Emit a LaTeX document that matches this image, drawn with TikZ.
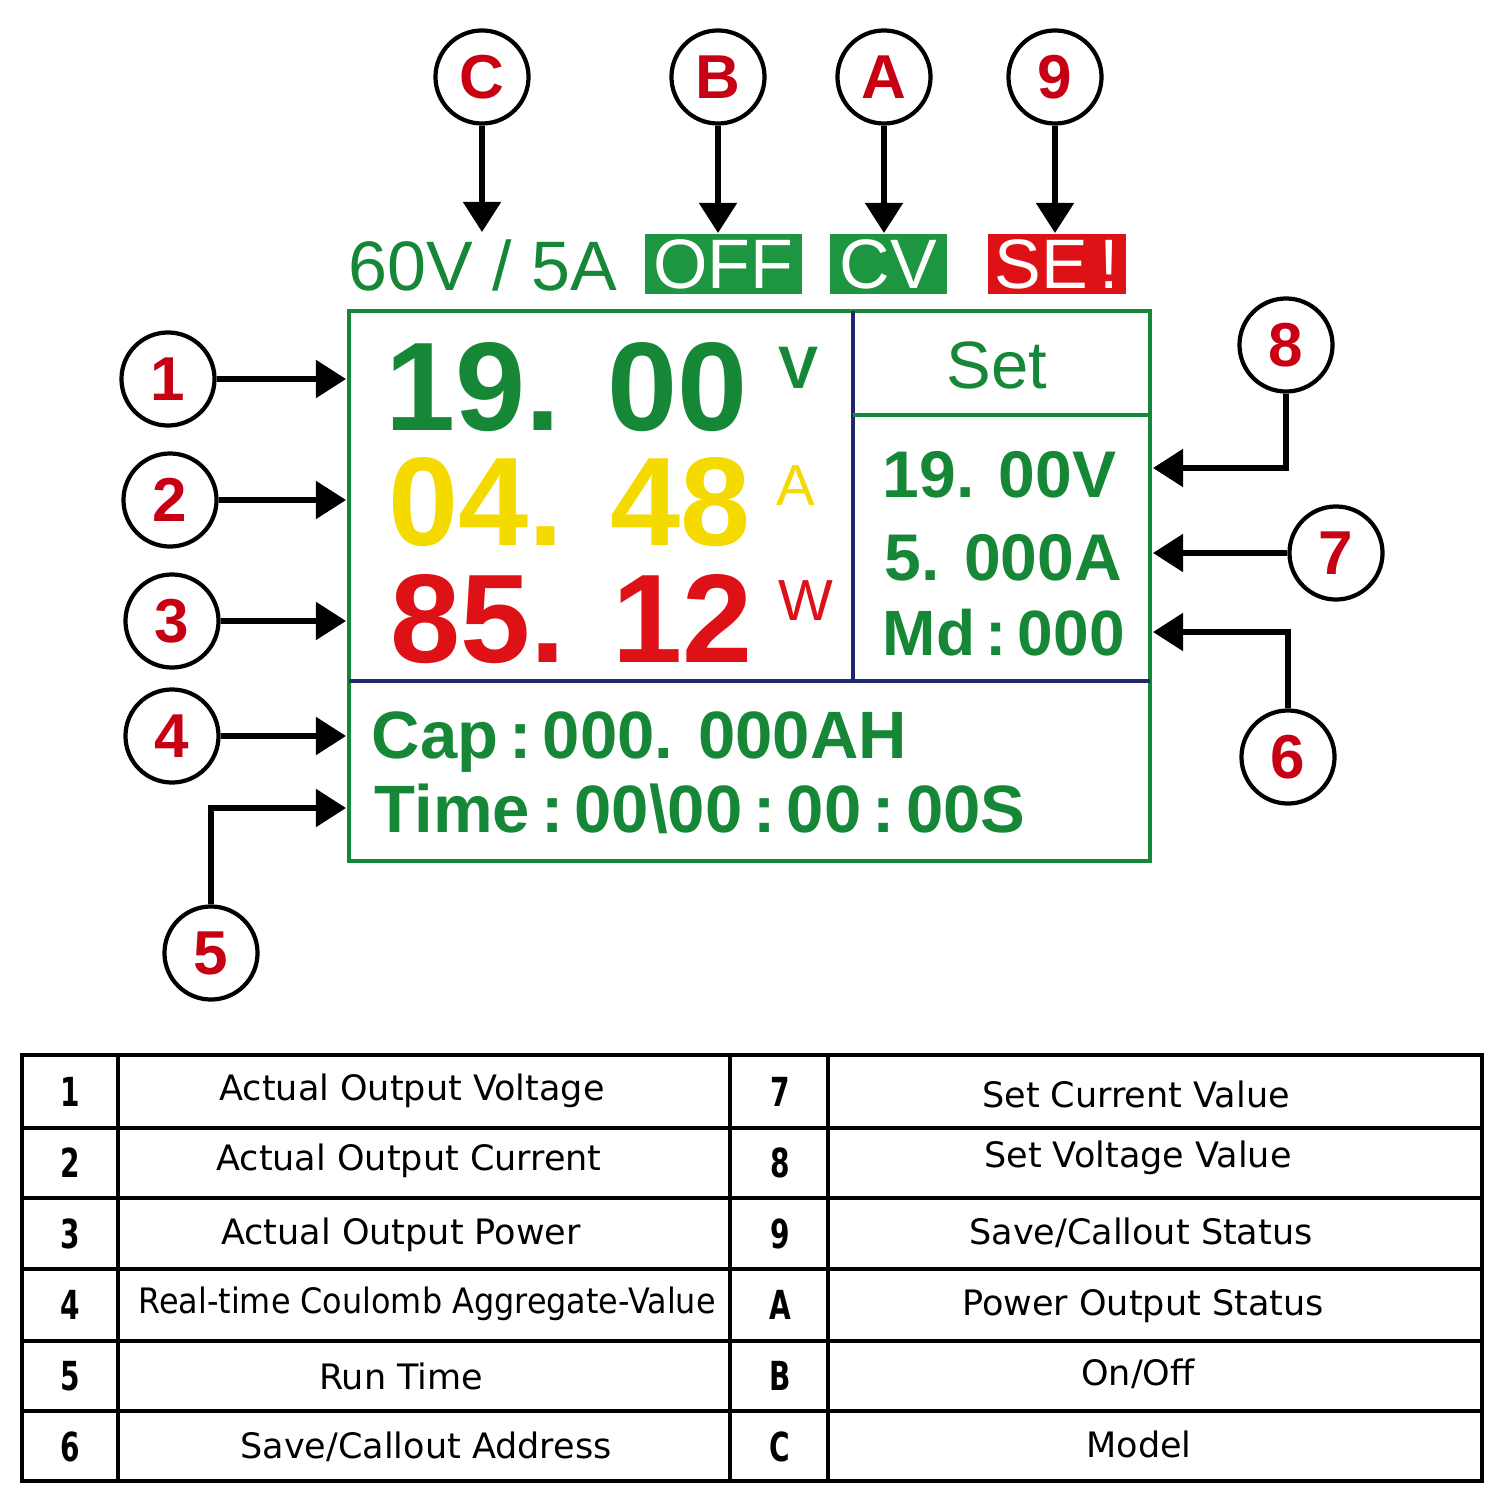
\documentclass[tikz,border=0pt]{standalone}
\usepackage{fontspec}
\setmainfont{Liberation Sans}
\newfontfamily\tabfont{DejaVu Sans}
\newfontfamily\tabfontn[FakeStretch=0.91]{DejaVu Sans}
\newfontfamily\tabnum[FakeStretch=0.7]{DejaVu Sans}
\usetikzlibrary{arrows.meta}
\definecolor{grn}{RGB}{22,135,55}
\definecolor{boxgrn}{RGB}{30,150,65}
\definecolor{yel}{RGB}{245,218,0}
\definecolor{dred}{RGB}{222,18,22}
\definecolor{labred}{RGB}{200,0,20}
\definecolor{navy}{RGB}{30,40,110}
\newcommand\px[1]{\fontsize{\dimexpr #1\dimexpr 0.2845pt\relax\relax}{\dimexpr #1\dimexpr 0.3pt\relax\relax}\selectfont}
\tikzset{
  callout/.style={circle, draw=black, line width=1.2pt, minimum size=0.93cm, inner sep=0pt,
    text=labred, font=\px{62}\bfseries},
  pointer/.style={line width=1.45pt, -{Triangle[length=0.3cm, width=0.37cm]}},
  disp/.style={inner sep=0pt, anchor=base west},
  cell/.style={inner sep=0pt, anchor=center, font=\tabfont\px{35}},
  cellnum/.style={inner sep=0pt, anchor=center, font=\tabnum\bfseries\px{40}},
}
\begin{document}
\begin{tikzpicture}[x=0.01cm, y=-0.01cm]
\useasboundingbox (0,0) rectangle (1500,1500);
\fill[white] (0,0) rectangle (1500,1500);

% ---------- top status row ----------
\node[disp, text=grn, font=\px{70}] (model) at (348,290) {60V / 5A};
\node[fill=boxgrn, text=white, font=\px{70}, minimum width=1.57cm, minimum height=0.6cm, inner sep=0pt] (off) at (723.5,264) {OFF};
\node[fill=boxgrn, text=white, font=\px{70}, minimum width=1.17cm, minimum height=0.6cm, inner sep=0pt] (cv) at (888.5,264) {CV};
\node[fill=dred, text=white, font=\px{70}, minimum width=1.38cm, minimum height=0.6cm, inner sep=0pt] (se) at (1057,264) {SE\,!};

% ---------- display box ----------
\draw[grn, line width=1.15pt] (349,311) rectangle (1150,861);
\draw[navy, line width=1pt] (853,311) -- (853,681);
\draw[navy, line width=1.1pt] (349,681) -- (1150,681);
\draw[grn, line width=1.1pt] (853,415) -- (1150,415);

\node[disp, text=grn, font=\px{126}\bfseries] (volt) at (385,430) {19. 00};
\node[disp, text=grn, font=\px{60}\bfseries] (voltu) at (778,388) {V};
\node[disp, text=yel, font=\px{126}\bfseries] (curr) at (388,545) {04. 48};
\node[disp, text=yel, font=\px{58}] (curru) at (776,505) {A};
\node[disp, text=dred, font=\px{126}\bfseries] (pow) at (390,662) {85. 12};
\node[disp, text=dred, font=\px{58}] (powu) at (778,620) {W};

\node[inner sep=0pt, anchor=base, text=grn, font=\px{67}] (set) at (997,388) {Set};
\node[disp, text=grn, font=\px{66}\bfseries] (setv) at (882,497) {19. 00V};
\node[disp, text=grn, font=\px{66}\bfseries] (seta) at (884,580) {5. 000A};
\node[disp, text=grn, font=\px{64}\bfseries] (md) at (882,655) {Md\,:\,000};

\node[disp, text=grn, font=\px{67}\bfseries] (cap) at (371,758) {Cap\,:\,000. 000AH};
\node[disp, text=grn, font=\px{67}\bfseries] (time) at (374,832) {Time\,:\,00\textbackslash 00\,:\,00\,:\,00S};

% ---------- callouts ----------
\node[callout] (cC) at (482,77) {C};
\node[callout] (cB) at (718,77) {B};
\node[callout] (cA) at (884,77) {A};
\node[callout] (c9) at (1055,77) {9};
\node[callout] (c1) at (168,379) {1};
\node[callout] (c2) at (170,500) {2};
\node[callout] (c3) at (172,621) {3};
\node[callout] (c4) at (172,736) {4};
\node[callout] (c5) at (211,953) {5};
\node[callout] (c8) at (1286,345) {8};
\node[callout] (c7) at (1336,553) {7};
\node[callout] (c6) at (1288,757) {6};

\coordinate (tC) at (482,232);
\coordinate (tB) at (718,233);
\coordinate (tA) at (884,233);
\coordinate (t9) at (1055,233);
\coordinate (t1) at (346,379);
\coordinate (t2) at (346,500);
\coordinate (t3) at (346,621);
\coordinate (t4) at (346,736);
\coordinate (t5) at (346,808);
\coordinate (t8) at (1153,468);
\coordinate (t7) at (1153,553);
\coordinate (t6) at (1153,632);

\draw[pointer] (cC) -- (tC);
\draw[pointer] (cB) -- (tB);
\draw[pointer] (cA) -- (tA);
\draw[pointer] (c9) -- (t9);
\draw[pointer] (c1) -- (t1);
\draw[pointer] (c2) -- (t2);
\draw[pointer] (c3) -- (t3);
\draw[pointer] (c4) -- (t4);
\draw[pointer] (c5) |- (t5);
\draw[pointer] (c8) |- (t8);
\draw[pointer] (c7) -- (t7);
\draw[pointer] (c6) |- (t6);

% ---------- table ----------
\draw[black, line width=0.9pt] (22,1055) rectangle (1482,1481);
\foreach \yy in {1128,1198,1269,1341,1411}
  \draw[black, line width=0.9pt] (22,\yy) -- (1482,\yy);
\foreach \xx in {118,730,828}
  \draw[black, line width=0.9pt] (\xx,1055) -- (\xx,1481);

\node[cellnum] (n1) at (70,1092) {1};
\node[cellnum] (n2) at (70,1163) {2};
\node[cellnum] (n3) at (70,1234) {3};
\node[cellnum] (n4) at (70,1305) {4};
\node[cellnum] (n5) at (70,1376) {5};
\node[cellnum] (n6) at (70,1447) {6};
\node[cellnum] (n7) at (780,1092) {7};
\node[cellnum] (n8) at (780,1163) {8};
\node[cellnum] (n9) at (780,1234) {9};
\node[cellnum] (nA) at (780,1305) {A};
\node[cellnum] (nB) at (780,1376) {B};
\node[cellnum] (nC) at (780,1447) {C};

\node[cell] (d1) at (412,1091) {Actual Output Voltage};
\node[cell] (d2) at (409,1161) {Actual Output Current};
\node[cell] (d3) at (401,1235) {Actual Output Power};
\node[cell, font=\tabfontn\px{35}] (d4) at (427,1304) {Real-time Coulomb Aggregate-Value};
\node[cell] (d5) at (401,1376) {Run Time};
\node[cell] (d6) at (426,1447) {Save/Callout Address};
\node[cell] (d7) at (1136,1094) {Set Current Value};
\node[cell] (d8) at (1138,1158) {Set Voltage Value};
\node[cell] (d9) at (1141,1233) {Save/Callout Status};
\node[cell] (dA) at (1143,1306) {Power Output Status};
\node[cell] (dB) at (1138,1374) {On/Off};
\node[cell] (dC) at (1139,1444) {Model};
\end{tikzpicture}
\end{document}
